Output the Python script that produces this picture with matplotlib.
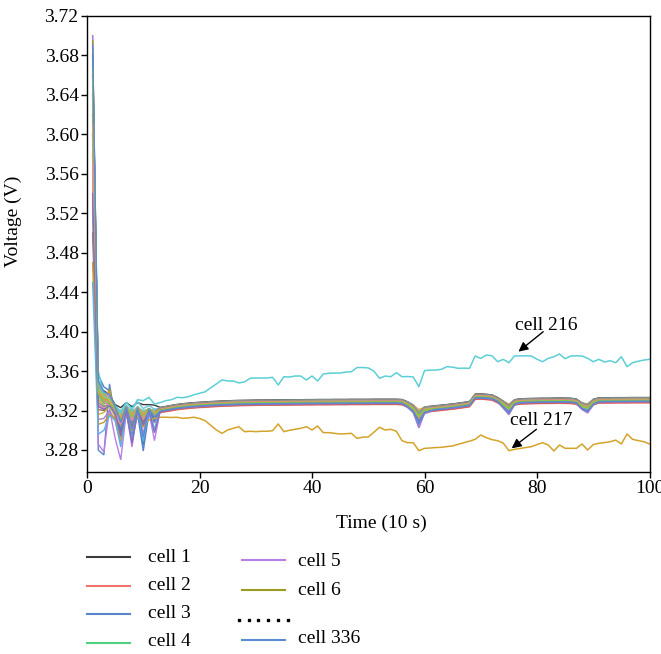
import numpy as np
import matplotlib
matplotlib.use("Agg")
import matplotlib.pyplot as plt
from matplotlib.lines import Line2D

plt.rcParams["font.family"] = ["Liberation Serif", "DejaVu Serif"]

# ---- data -----------------------------------------------------------------
time = np.arange(1, 101)

# average pack voltage per sample (V)
pack_mean = [
    3.620, 3.336, 3.330, 3.330, 3.322, 3.318, 3.322, 3.319, 3.322, 3.319,
    3.321, 3.3195, 3.3205, 3.3215, 3.3225, 3.3235, 3.3242, 3.3248, 3.3253, 3.3257,
    3.3260, 3.3264, 3.3267, 3.3270, 3.3272, 3.3274, 3.3276, 3.3277, 3.3278, 3.3279,
    3.3280, 3.3280, 3.3281, 3.3281, 3.3282, 3.3282, 3.3283, 3.3283, 3.3284, 3.3284,
    3.3285, 3.3285, 3.3285, 3.3286, 3.3286, 3.3286, 3.3287, 3.3287, 3.3287, 3.3287,
    3.3288, 3.3288, 3.3288, 3.3288, 3.3288, 3.3285, 3.3265, 3.3235, 3.3175, 3.3215,
    3.3218, 3.3222, 3.3228, 3.3234, 3.3240, 3.3248, 3.3256, 3.3265, 3.3340, 3.3342,
    3.3338, 3.3332, 3.3305, 3.3275, 3.3240, 3.3285, 3.3292, 3.3294, 3.3296, 3.3297,
    3.3298, 3.3298, 3.3299, 3.3300, 3.3299, 3.3298, 3.3290, 3.3255, 3.3245, 3.3290,
    3.3302, 3.3303, 3.3303, 3.3304, 3.3304, 3.3304, 3.3305, 3.3305, 3.3305, 3.3305,
]

# relative depth of the load sags seen by the weaker cells
sag_shape = [0.0] * 100
for t_idx, depth in [(57, 0.15), (58, 0.35), (59, 1.0), (60, 0.25), (61, 0.1),
                     (74, 0.3), (75, 0.55), (76, 0.1),
                     (88, 0.25), (89, 0.45), (90, 0.15)]:
    sag_shape[t_idx - 1] = depth

cell_216 = [
    3.600, 3.360, 3.335, 3.330, 3.325, 3.318, 3.328, 3.322, 3.331, 3.330,
    3.3334, 3.3266, 3.328, 3.330, 3.331, 3.3334, 3.333, 3.334, 3.336, 3.3375,
    3.339, 3.343, 3.347, 3.351, 3.350, 3.350, 3.348, 3.349, 3.3527, 3.353,
    3.353, 3.353, 3.3537, 3.3459, 3.3543, 3.354, 3.355, 3.355, 3.351, 3.355,
    3.350, 3.357, 3.3578, 3.358, 3.358, 3.359, 3.3594, 3.3636, 3.3636, 3.3632,
    3.360, 3.3527, 3.355, 3.3543, 3.3584, 3.3543, 3.3545, 3.354, 3.3442, 3.3604,
    3.361, 3.361, 3.3618, 3.3645, 3.364, 3.3628, 3.363, 3.3628, 3.3753, 3.3729,
    3.3763, 3.3755, 3.3695, 3.3719, 3.3685, 3.3753, 3.3755, 3.3755, 3.3753, 3.372,
    3.3695, 3.3730, 3.3745, 3.3773, 3.3726, 3.3753, 3.3755, 3.3753, 3.373, 3.3695,
    3.3719, 3.3692, 3.3705, 3.3685, 3.3746, 3.3645, 3.3685, 3.370, 3.3712, 3.3719,
]

cell_217 = [
    3.580, 3.340, 3.335, 3.340, 3.315, 3.290, 3.320, 3.300, 3.315, 3.3036,
    3.3104, 3.312, 3.3132, 3.3132, 3.313, 3.3132, 3.3121, 3.3125, 3.3132, 3.312,
    3.3097, 3.305, 3.3003, 3.2969, 3.3003, 3.302, 3.3036, 3.2986, 3.299, 3.2986,
    3.299, 3.299, 3.2996, 3.3064, 3.2986, 3.300, 3.301, 3.302, 3.3036, 3.3003,
    3.3043, 3.2976, 3.2976, 3.2969, 3.2962, 3.2965, 3.2969, 3.2918, 3.293, 3.2932,
    3.298, 3.3030, 3.3003, 3.3010, 3.2990, 3.2894, 3.2874, 3.2874, 3.2793, 3.2817,
    3.282, 3.2825, 3.2827, 3.2835, 3.2841, 3.2858, 3.2874, 3.289, 3.2908, 3.2952,
    3.2925, 3.2905, 3.2894, 3.287, 3.2793, 3.2807, 3.2815, 3.2825, 3.2834, 3.2855,
    3.2874, 3.2851, 3.2790, 3.2851, 3.2817, 3.2817, 3.2817, 3.2861, 3.2800, 3.2855,
    3.2868, 3.2875, 3.2884, 3.2900, 3.2861, 3.2962, 3.2908, 3.2895, 3.2884, 3.2861,
]

cell_ids = [1, 2, 3, 4, 5, 6, 14, 39, 52, 68, 81, 95, 108, 123, 137, 150,
            164, 179, 193, 205, 229, 243, 258, 271, 286, 299, 312, 325, 27, 336]

cell_colors = ["#3b3b3b", "#f0756e", "#5b84c9", "#4fcf80", "#b97de6", "#9c9a20",
               "#f29a3a", "#6fc3d9", "#e0749f", "#7a7fd1", "#c7b23a", "#53b3a4",
               "#a36b4f", "#8fa8e0", "#e8a05c", "#6ab04c", "#a77fc9", "#d6604d",
               "#9fd36a", "#4a7fbf", "#c99a2e", "#78c9b0", "#8c8c8c", "#e386c9",
               "#5fb0e8", "#b3c33b", "#7f6fbf", "#ef8f6f", "#8cc43f", "#5b8bd2"]

# voltage at the first sample (V)
cell_start = [3.680, 3.620, 3.700, 3.600, 3.700, 3.695, 3.640, 3.560, 3.580, 3.660,
              3.520, 3.630, 3.500, 3.670, 3.550, 3.610, 3.530, 3.620, 3.650, 3.680,
              3.470, 3.590, 3.640, 3.570, 3.450, 3.660, 3.540, 3.610, 3.668, 3.690]

# deviation from the pack mean over samples 2..12 (mV)
cell_early_mv = [
    [8, 10, 6, 4, 5, 6, 5, 6, 7, 5, 6],
    [-4, -6, -5, -3, -4, -2, -3, -2, -3, -2, -3],
    [-56, -55, 17, -10, -20, -5, -30, -6, -40, -4, -12],
    [3, 2, -2, 1, 2, 0, 1, 0, 1, 0, 1],
    [-50, -52, -8, -30, -48, -3, -36, 0, -22, -2, -30],
    [2, -4, 12, -5, -28, 2, -10, 1, -8, 1, -5],
    [6, 5, 3, 2, -6, 3, -4, 2, -3, 1, -2],
    [15, 8, 4, 3, 1, 6, 2, 7, 3, 4, 2],
    [-10, -8, -6, -4, -10, -2, -8, -1, -6, -1, -4],
    [10, 4, 2, -2, -14, 0, -12, 1, -10, 0, -6],
    [-20, -12, -6, -8, -16, -3, -9, -2, -8, -2, -5],
    [5, 3, 0, -1, -4, 2, -3, 1, -2, 1, -1],
    [-15, -10, -4, -6, -22, -2, -15, -1, -12, -1, -8],
    [12, 6, 4, 1, -2, 3, -1, 2, -1, 1, 0],
    [-6, -3, 8, -2, -6, 0, -5, 0, -4, 0, -2],
    [0, -2, -4, -3, -6, -1, -4, 0, -3, 0, -2],
    [-25, -18, -10, -12, -30, -4, -20, -2, -16, -2, -12],
    [4, 2, 1, 0, -3, 1, -2, 1, -2, 0, -1],
    [-2, -5, -7, -5, -9, -2, -5, -1, -4, -1, -3],
    [20, 14, 10, -3, -18, -1, -25, 0, -34, 0, -10],
    [-30, -22, -14, -10, -12, -3, -6, -2, -5, -1, -4],
    [8, 4, 2, 0, -2, 2, -1, 2, 0, 1, 0],
    [-8, -6, -3, -2, -5, 0, -3, 0, -2, 0, -1],
    [2, -1, -5, -4, -12, 0, -9, 0, -7, 0, -4],
    [-40, -30, -15, -12, -35, -2, -28, -1, -30, -1, -18],
    [6, 3, 1, 0, -4, 2, -3, 1, -2, 1, -1],
    [-12, -9, -5, -5, -24, -2, -32, -1, -14, -1, -22],
    [3, 1, -1, -1, -5, 1, -4, 1, -3, 0, -2],
    [1, 0, -3, 0, -8, 1, -6, 0, -5, 0, -3],
    [14, 9, 6, 2, -10, 2, -18, 1, -26, 1, -6],
]

# steady offset from the pack mean after sample 12 (mV)
cell_offset_mv = [2.7, -2.7, 0.9, 0.3, -0.6, -1.2, 1.4, 1.8, -1.8, 0.6,
                  -1.5, 1.0, -0.9, 1.5, -0.3, 0.4, -2.1, -2.4, 0.8, 1.2,
                  -0.5, 2.1, 2.3, -1.4, 0.2, -0.8, -1.6, 0.9, 0.0, -1.0]

# extra voltage drop during the load sags (mV)
cell_sag_mv = [2, 1, 16, 5, 14, 4, -2, 3, 6, 5,
               7, 3, 8, 9, -3, 4, 10, 2, 6, 12,
               5, 1, 2, 8, 8, 3, 7, 4, 3, 10]

# ---- figure -----------------------------------------------------------------
fig = plt.figure(figsize=(6.61, 6.54), dpi=100)
ax = fig.add_axes([87 / 661, 1 - 471.7 / 654, 562.5 / 661, 455.7 / 654])

mean = np.array(pack_mean)
sag = np.array(sag_shape)
handles = {}
for k, cid in enumerate(cell_ids):
    v = np.empty(100)
    v[0] = cell_start[k]
    v[1:12] = mean[1:12] + np.array(cell_early_mv[k]) / 1000.0
    v[12:] = mean[12:] + cell_offset_mv[k] / 1000.0 - cell_sag_mv[k] * sag[12:] / 1000.0
    (ln,) = ax.plot(time, v, color=cell_colors[k], lw=1.0, solid_joinstyle="miter")
    handles[cid] = ln
    if cid == 205:
        ax.plot(time, cell_216, color="#5ccfd6", lw=1.1)
        ax.plot(time, cell_217, color="#d4a32a", lw=1.1)

ax.set_xlim(0, 100)
ax.set_ylim(3.258, 3.72)
ax.set_xticks(np.arange(0, 101, 20))
ax.set_yticks(np.arange(3.28, 3.7201, 0.04))
ax.yaxis.set_major_formatter(matplotlib.ticker.FormatStrFormatter("%.2f"))
ax.tick_params(direction="out", length=4, width=1, labelsize=14, pad=2,
               top=False, right=False)
for s in ax.spines.values():
    s.set_linewidth(1.0)
    s.set_color("black")

ax.set_xlabel("Time (10 s)", fontsize=14)
ax.set_ylabel("Voltage (V)", fontsize=14)
ax.xaxis.set_label_coords(0.524, -0.094)
ax.yaxis.set_label_coords(-0.116, 0.55)

# annotations for the two outlying cells
arrow = dict(arrowstyle="-|>", color="black", lw=1.0, mutation_scale=14,
             shrinkA=0, shrinkB=0)
ax.annotate("", xy=(76.7, 3.3797), xytext=(81.1, 3.3999), arrowprops=arrow)
ax.text(81.7, 3.4067, "cell 216", fontsize=14, ha="center", va="center")
ax.annotate("", xy=(75.5, 3.2817), xytext=(79.9, 3.3010), arrowprops=arrow)
ax.text(80.8, 3.3104, "cell 217", fontsize=14, ha="center", va="center")

# legend below the axes, two columns
def fx(px):
    return px / 661


def fy(py):
    return 1 - py / 654


legend_rows = [
    (1, 87, 130, 557, 148, 558),
    (2, 87, 130, 585.7, 148, 585),
    (3, 87, 130, 614, 148, 613),
    (4, 87, 130, 642.7, 148, 641.7),
    (5, 242, 285, 560.3, 298, 561.7),
    (6, 242, 285, 590.3, 298, 590.7),
    (336, 242, 285, 640, 298, 638.3),
]
for cid, x0, x1, ly, tx, ty in legend_rows:
    src = handles[cid]
    fig.add_artist(Line2D([fx(x0), fx(x1)], [fy(ly), fy(ly)],
                          transform=fig.transFigure, color=src.get_color(), lw=1.5))
    fig.text(fx(tx), fy(ty), f"cell {cid}", fontsize=14, ha="left", va="center")

dots_x = [fx(239 + 9.7 * i) for i in range(6)]
fig.add_artist(Line2D(dots_x, [fy(620)] * 6, transform=fig.transFigure,
                      linestyle="none", marker="s", markersize=2.0,
                      color="black"))

fig.savefig("out.png", dpi=100)
